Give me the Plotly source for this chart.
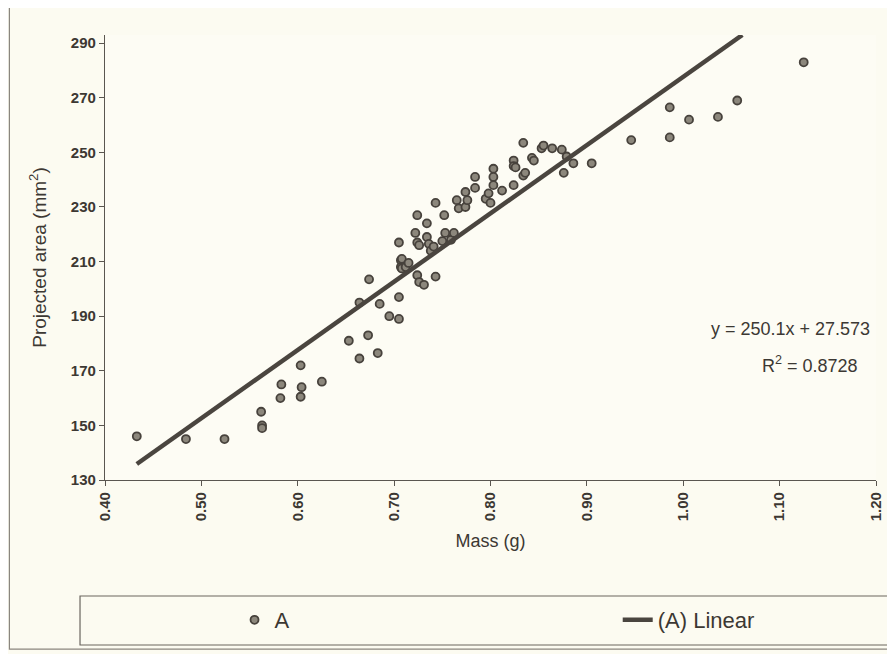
import plotly.graph_objects as go

mass = [0.433, 0.484, 0.524, 0.562, 0.563, 0.563, 0.582, 0.583, 0.603, 0.604,
        0.603, 0.625, 0.653, 0.664, 0.664, 0.673, 0.674, 0.683, 0.685, 0.695,
        0.705, 0.705, 0.705, 0.707, 0.707, 0.708, 0.708, 0.712, 0.715, 0.722,
        0.724, 0.724, 0.724, 0.726, 0.726, 0.731, 0.734, 0.734, 0.736, 0.738,
        0.741, 0.743, 0.743, 0.750, 0.752, 0.753, 0.759, 0.762, 0.765, 0.767,
        0.774, 0.774, 0.776, 0.784, 0.784, 0.795, 0.798, 0.800, 0.803, 0.803,
        0.803, 0.812, 0.824, 0.824, 0.824, 0.826, 0.834, 0.834, 0.836, 0.843,
        0.845, 0.853, 0.855, 0.864, 0.874, 0.876, 0.879, 0.886, 0.905, 0.946,
        0.986, 0.986, 1.006, 1.036, 1.056, 1.125]
area = [146, 145, 145, 155, 150, 149, 160, 165, 172, 164,
        160.5, 166, 181, 174.5, 195, 183, 203.5, 176.5, 194.5, 190,
        189, 197, 217, 210.5, 208, 211, 207.5, 208, 209.5, 220.5,
        205, 217, 227, 216, 202.5, 201.5, 224, 219, 216.5, 214,
        215.5, 231.5, 204.5, 217.5, 227, 220.5, 218, 220.5, 232.5, 229.5,
        230, 235.5, 232.5, 241, 237, 233, 235, 231.5, 244, 241,
        238, 236, 247, 245, 238, 244.5, 253.5, 241.5, 242.5, 248,
        247, 251.5, 252.5, 251.5, 251, 242.5, 248.5, 246, 246, 254.5,
        266.5, 255.5, 262, 263, 269, 283]

slope = 250.1
intercept = 27.573
r2 = 0.8728
x_ticks = [0.40, 0.50, 0.60, 0.70, 0.80, 0.90, 1.00, 1.10, 1.20]
y_ticks = [130, 150, 170, 190, 210, 230, 250, 270, 290]
y_top = 293

x_fit = [min(mass), (y_top - intercept) / slope]
y_fit = [slope * v + intercept for v in x_fit]

ink = "#3c3833"
font = "Liberation Sans, Arial, sans-serif"

fig = go.Figure()
fig.add_trace(go.Scatter(
    x=mass, y=area, mode="markers", name="A", legend="legend",
    marker=dict(symbol="circle", size=8, color="#8c877c",
                line=dict(color="#47423c", width=1.8)),
))
fig.add_trace(go.Scatter(
    x=x_fit, y=y_fit, mode="lines", name="(A) Linear", legend="legend2",
    line=dict(color="#4a453f", width=4.5),
))

legend_style = dict(orientation="h", xanchor="left", yanchor="middle",
                    font=dict(size=22, family=font, color=ink),
                    bgcolor="rgba(0,0,0,0)")

# the page body adds an 8px offset; figure is sized to fill the rest of the window
fig.update_layout(
    width=887, height=646,
    margin=dict(l=97, r=19, t=27, b=174, autoexpand=False),
    paper_bgcolor="#fcfbf1", plot_bgcolor="#fdfcf4",
    font=dict(family=font, color=ink),
    showlegend=True,
    legend=dict(x=0.168, y=-0.3146, **legend_style),
    legend2=dict(x=0.665, y=-0.3146, **legend_style),
    xaxis=dict(range=[0.40, 1.20], tickvals=x_ticks, automargin=False,
               ticktext=[f"{v:.2f}" for v in x_ticks], tickangle=-90,
               showgrid=False, zeroline=False, showline=True,
               linecolor="#5a5650", linewidth=1.3, ticks="outside",
               ticklen=5, tickcolor="#5a5650",
               tickfont=dict(size=15, family=font, color=ink, weight="bold"),
               title=dict(text="Mass (g)", font=dict(size=18, family=font, color=ink),
                          standoff=14)),
    yaxis=dict(range=[130, y_top], tickvals=y_ticks, automargin=False,
               showgrid=False, zeroline=False, showline=True,
               linecolor="#5a5650", linewidth=1.3, ticks="outside",
               ticklen=5, tickcolor="#5a5650",
               tickfont=dict(size=15, family=font, color=ink, weight="bold"),
               title=dict(text="Projected area (mm<sup>2</sup>)",
                          font=dict(size=19, family=font, color=ink), standoff=19)),
)

# legend box and outer chart frame
fig.add_shape(type="rect", xref="paper", yref="paper",
              x0=-0.0324, x1=1.018, y0=-0.3708, y1=-0.2607,
              line=dict(color="#6a665f", width=1.2), fillcolor="rgba(0,0,0,0)")
fig.add_shape(type="rect", xref="paper", yref="paper",
              x0=-0.124, x1=1.022, y0=-0.38, y1=1.065,
              line=dict(color="#8a867f", width=1.2), fillcolor="rgba(0,0,0,0)")

fig.add_annotation(xref="paper", yref="paper", x=0.889, y=0.339,
                   text=f"y = {slope}x + {intercept}", showarrow=False,
                   font=dict(size=18, family=font, color=ink), xanchor="center")
fig.add_annotation(xref="paper", yref="paper", x=0.915, y=0.23,
                   text=f"R<sup>2</sup> = {r2}", showarrow=False,
                   font=dict(size=18, family=font, color=ink), xanchor="center")

fig.write_html("out.html")
